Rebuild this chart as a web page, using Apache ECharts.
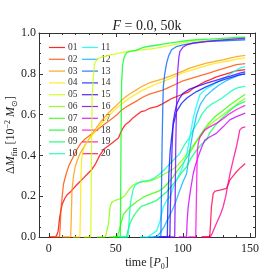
<!DOCTYPE html>
<html><head><meta charset="utf-8">
<script src="https://cdn.jsdelivr.net/npm/echarts@6/dist/echarts.min.js"></script>
<style>html,body{margin:0;padding:0;background:#fff}#c{width:277px;height:277px}</style>
</head><body><div id="c"></div>
<script>
const names = ['01','02','03','04','05','06','07','08','09','10','11','12','13','14','15','16','17','18','19','20'];
const colors = ['#ff0000','#ff4d00','#ff9900','#ffe600','#ccff00','#80ff00','#33ff00','#00ff1a','#00ff66','#00ffb3',
                '#00ffff','#00b3ff','#0066ff','#001aff','#3300ff','#8000ff','#cc00ff','#ff00e6','#ff0099','#ff004d'];
const yTicks = [0, 0.2, 0.4, 0.6, 0.8, 1.0];

const s01 = [[0,0],[5,0],[6,0.01],[7,0.03],[8,0.09],[9,0.13],[10,0.16],[12,0.19],[14,0.21],[16,0.22],[18,0.235],[20,0.25],[23,0.27],[26,0.29],[29,0.31],[32,0.33],[35,0.36],[38,0.40],[41,0.43],[44,0.445],[47,0.46],[50,0.475],[52,0.485],[53.5,0.51],[55,0.53],[57,0.55],[60,0.565],[63,0.585],[66,0.60],[69,0.615],[72,0.62],[75,0.63],[78,0.635],[81,0.64],[84,0.65],[88,0.665],[92,0.68],[96,0.69],[100,0.70],[104,0.71],[108,0.73],[112,0.745],[116,0.76],[120,0.77],[125,0.785],[130,0.795],[135,0.805],[140,0.815],[146.5,0.82]];
const s02 = [[3,0],[8,0],[8.5,0.05],[9,0.13],[10,0.2],[11,0.26],[13,0.31],[15,0.35],[18,0.39],[21,0.43],[24,0.46],[27,0.48],[30,0.495],[33,0.51],[36,0.525],[40,0.545],[44,0.565],[48,0.585],[51,0.60],[54,0.62],[57,0.635],[61,0.65],[65,0.665],[70,0.685],[75,0.70],[80,0.71],[85,0.72],[90,0.735],[95,0.75],[100,0.765],[105,0.775],[110,0.785],[115,0.795],[120,0.805],[125,0.815],[130,0.825],[135,0.835],[140,0.845],[146.5,0.85]];
const s03 = [[10,0],[16.3,0],[16.8,0.1],[17.3,0.23],[18.5,0.3],[19.7,0.345],[21.5,0.38],[23.4,0.41],[26,0.44],[29,0.47],[32,0.50],[36,0.54],[40,0.575],[44,0.605],[48,0.63],[52,0.655],[56,0.68],[60,0.70],[65,0.72],[70,0.74],[75,0.755],[80,0.765],[85,0.775],[90,0.787],[95,0.80],[100,0.813],[105,0.828],[110,0.838],[117.6,0.852],[125,0.862],[130,0.868],[135,0.877],[140,0.884],[146.5,0.89]];
const s04 = [[18,0],[23.2,0],[23.6,0.12],[24,0.3],[24.5,0.38],[25.5,0.42],[27,0.45],[30,0.48],[33,0.505],[36,0.53],[40,0.56],[44,0.59],[48,0.615],[52,0.64],[56,0.66],[60,0.68],[65,0.70],[70,0.72],[75,0.735],[80,0.75],[85,0.762],[90,0.775],[95,0.79],[100,0.805],[105,0.815],[110,0.825],[115,0.835],[120,0.845],[125,0.852],[130,0.858],[135,0.864],[140,0.872],[146.5,0.878]];
const s05 = [[26,0],[31.3,0],[31.6,0.2],[31.9,0.45],[32.3,0.68],[33,0.77],[34.1,0.85],[35.5,0.865],[37.1,0.877],[42,0.885],[46,0.893],[50,0.898],[55,0.905],[60,0.91],[65,0.914],[70,0.918],[75,0.921],[80,0.926],[85,0.932],[90,0.938],[95,0.945],[100,0.952],[105,0.956],[110,0.96],[120,0.963],[130,0.966],[140,0.97],[146.5,0.972]];
const s06 = [[36,0],[42,0],[43,0.02],[44.5,0.066],[45.7,0.147],[47,0.17],[49.5,0.18],[52,0.185],[54.4,0.19],[57,0.205],[60,0.235],[63,0.255],[66,0.265],[70,0.27],[73,0.272],[77,0.278],[81,0.29],[84,0.3],[88,0.315],[92,0.33],[95,0.344],[100,0.38],[105,0.426],[109,0.46],[112.7,0.49],[116,0.52],[120,0.55],[125,0.575],[130,0.60],[135,0.625],[140,0.65],[146.5,0.68]];
const s07 = [[45,0],[51,0],[52.5,0.03],[54,0.07],[55.6,0.11],[58,0.13],[60.6,0.147],[63,0.16],[66,0.175],[70.5,0.195],[74,0.205],[78,0.215],[82,0.225],[85.4,0.24],[89,0.265],[92.8,0.295],[96,0.325],[100,0.36],[104,0.40],[107.7,0.44],[111,0.48],[115,0.52],[119,0.555],[124,0.59],[130,0.62],[135,0.647],[140,0.67],[146.5,0.70]];
const s08 = [[48,0],[53.3,0],[53.6,0.2],[53.9,0.5],[54.3,0.75],[55,0.84],[56,0.875],[57,0.893],[58.5,0.905],[60.6,0.91],[65,0.915],[70.5,0.93],[75,0.935],[80,0.94],[85,0.945],[90,0.95],[95,0.955],[102.8,0.962],[110,0.967],[120,0.97],[130,0.974],[140,0.978],[146.5,0.98]];
const s09 = [[52,0],[58,0],[59,0.03],[60.6,0.066],[63,0.1],[65.6,0.125],[69,0.15],[73,0.16],[77,0.17],[80.5,0.18],[84,0.2],[87.9,0.221],[91,0.245],[95.3,0.279],[99,0.315],[102.8,0.344],[106,0.385],[110.2,0.426],[114,0.455],[117.6,0.475],[120,0.51],[124,0.545],[128,0.575],[132,0.6],[136,0.625],[140,0.645],[146.5,0.665]];
const s10 = [[53,0],[59,0],[59.6,0.05],[60.3,0.12],[61,0.17],[61.9,0.2],[63,0.235],[64.3,0.254],[68,0.27],[72,0.275],[75.5,0.279],[79,0.29],[83,0.31],[87,0.335],[90.4,0.36],[94,0.385],[97.8,0.41],[101,0.45],[105.2,0.49],[108,0.53],[111.4,0.565],[114,0.6],[117.6,0.631],[121,0.65],[125,0.664],[129,0.68],[132.5,0.697],[136,0.715],[140,0.73],[146.5,0.74]];
const s11 = [[68,0],[74,0],[77,0.015],[80.5,0.03],[83,0.08],[85.4,0.147],[88,0.18],[90.4,0.197],[93,0.245],[95.3,0.279],[99,0.33],[102.8,0.40],[105.2,0.49],[107.7,0.58],[110,0.64],[112.7,0.697],[117,0.725],[122.6,0.746],[127,0.765],[132.5,0.787],[137,0.805],[142.4,0.828],[146.5,0.835]];
const s12 = [[74,0],[80,0],[83,0.02],[86,0.05],[89,0.09],[92,0.13],[94,0.16],[97.8,0.23],[100,0.27],[102.8,0.31],[105.2,0.426],[107.7,0.52],[110.2,0.598],[113,0.65],[117,0.69],[122,0.72],[127,0.745],[132,0.765],[137,0.78],[142,0.795],[146.5,0.80]];
const s13 = [[78,0],[83.6,0],[84,0.2],[84.5,0.45],[85,0.63],[85.4,0.737],[86.5,0.8],[87.9,0.852],[89.5,0.89],[91.6,0.918],[95,0.933],[100.2,0.942],[108,0.951],[117.6,0.958],[130,0.962],[146.5,0.967]];
const s14 = [[82,0],[88.4,0],[88.8,0.15],[89.5,0.3],[90.5,0.42],[91.8,0.5],[92.8,0.549],[95.3,0.615],[99,0.655],[102.8,0.68],[106,0.695],[110.2,0.713],[117.6,0.737],[124,0.755],[130,0.77],[136,0.782],[142.4,0.795],[146.5,0.80]];
const s15 = [[84,0],[90.3,0],[90.7,0.15],[91.3,0.3],[92,0.45],[92.8,0.565],[94,0.61],[95.3,0.647],[97.5,0.68],[100.2,0.705],[105,0.725],[110.2,0.737],[117.6,0.754],[124,0.767],[130,0.779],[136,0.79],[142.4,0.803],[146.5,0.81]];
const s16 = [[88,0],[93.9,0],[94.3,0.2],[94.7,0.45],[95.3,0.65],[96,0.8],[97,0.88],[97.8,0.91],[100,0.93],[102.8,0.942],[108,0.95],[117.6,0.959],[130,0.966],[146.5,0.975]];
const s17 = [[97,0],[102.7,0],[103.2,0.08],[104,0.15],[105.7,0.23],[107.7,0.31],[109.5,0.355],[111.4,0.393],[114,0.44],[116.4,0.475],[120,0.49],[125,0.508],[130,0.54],[135,0.574],[140,0.59],[146.5,0.607]];
const s18 = [[104,0],[109.6,0],[110,0.15],[110.4,0.3],[110.8,0.42],[111.5,0.46],[112.7,0.49],[116.4,0.525],[120,0.54],[125,0.557],[130,0.58],[135,0.605],[140,0.625],[146.5,0.645]];
const s19 = [[114,0],[120.5,0],[122,0.02],[125,0.066],[128,0.11],[130,0.147],[132,0.2],[133.7,0.262],[135.5,0.32],[137.5,0.377],[139.5,0.43],[141,0.475],[142.4,0.524],[144,0.535],[146.5,0.54]];
const s20 = [[114,0],[120,0],[120.5,0.05],[121.3,0.147],[122.6,0.213],[124,0.225],[127.5,0.23],[130,0.234],[132.5,0.238],[134,0.26],[135,0.279],[137.5,0.3],[140,0.32],[143,0.34],[146.5,0.36]];
const seriesValues = [s01,s02,s03,s04,s05,s06,s07,s08,s09,s10,s11,s12,s13,s14,s15,s16,s17,s18,s19,s20];

const FONT = 'Liberation Serif';
const axisCol = '#333';
function xAx(pos, labels) {
  return {
    type: 'value', position: pos, min: -7.3, max: 153.8, splitNumber: 3,
    axisLine: { show: true, onZero: false, lineStyle: { color: axisCol, width: 1 } },
    axisTick: { show: true, inside: true, length: 4, lineStyle: { color: axisCol } },
    minorTick: { show: true, splitNumber: 5, length: 2, lineStyle: { color: axisCol } },
    axisLabel: { show: labels, showMinLabel: false, showMaxLabel: false, margin: 6,
      fontFamily: FONT, fontSize: 12, color: '#222',
      formatter: v => (Math.abs(v % 50) < 1e-6 ? String(v) : '') },
    splitLine: { show: false }
  };
}
function yAx(pos, labels) {
  return {
    type: 'value', position: pos, min: 0, max: 1, interval: 0.2,
    axisLine: { show: true, onZero: false, lineStyle: { color: axisCol, width: 1 } },
    axisTick: { show: true, inside: true, length: 4, lineStyle: { color: axisCol } },
    minorTick: { show: true, splitNumber: 4, length: 2, lineStyle: { color: axisCol } },
    axisLabel: { show: labels, margin: 3, fontFamily: FONT, fontSize: 12, color: '#222',
      formatter: v => v.toFixed(1) },
    splitLine: { show: false }
  };
}

const series = seriesValues.map((d, i) => ({
  name: names[i], type: 'line', data: d, xAxisIndex: 0, yAxisIndex: 0,
  symbol: 'none', showSymbol: false, smooth: false,
  lineStyle: { width: 1.3, color: colors[i], opacity: 0.8 },
  itemStyle: { color: colors[i] }, z: 2 + i
}));

const legendCommon = {
  orient: 'vertical', top: 37.5, itemWidth: 16, itemHeight: 9, itemGap: 1.8,
  icon: 'path://M0,4.4 L16,4.4 L16,5.6 L0,5.6 Z',
  textStyle: { fontFamily: FONT, fontSize: 9.5, lineHeight: 9, color: '#333', padding: [0,0,0,-2] },
  itemStyle: { opacity: 0.85 }, inactiveColor: '#ccc', selectedMode: false
};

const chart = echarts.init(document.getElementById('c'), null, { renderer: 'canvas' });
chart.setOption({
  animation: false,
  backgroundColor: '#fff',
  grid: { left: 39, right: 22, top: 33, bottom: 40, containLabel: false },
  xAxis: [xAx('bottom', true), xAx('top', false)],
  yAxis: [yAx('left', true), yAx('right', false)],
  legend: [
    Object.assign({}, legendCommon, { left: 44, data: names.slice(0, 10) }),
    Object.assign({}, legendCommon, { left: 77, data: names.slice(10) })
  ],
  series: series,
  graphic: [
    { type: 'text', x: 147, y: 26, z: 100,
      style: { text: '{i|F}{n| = 0.0, 50k}', align: 'center', verticalAlign: 'middle',
        rich: { i: { fontFamily: FONT, fontStyle: 'italic', fontSize: 14, fill: '#222' },
                n: { fontFamily: FONT, fontSize: 14, fill: '#222' } } } },
    { type: 'text', x: 147, y: 263, z: 100,
      style: { text: '{n|time [}{i|P}{s|0}{n|]}', align: 'center', verticalAlign: 'middle',
        rich: { n: { fontFamily: FONT, fontSize: 12, lineHeight: 15, fill: '#222' },
                i: { fontFamily: FONT, fontStyle: 'italic', fontSize: 12, lineHeight: 15, fill: '#222' },
                s: { fontFamily: FONT, fontSize: 8, lineHeight: 9, verticalAlign: 'bottom', fill: '#222' } } } },
    { type: 'text', x: 11, y: 135, rotation: Math.PI / 2, z: 100,
      style: { text: '{n|Δ}{i|M}{s|fin}{n| [10}{u|−2}{i| M}{s|⊙}{n|]}', align: 'center', verticalAlign: 'middle',
        rich: { n: { fontFamily: FONT, fontSize: 12, lineHeight: 15, fill: '#222' },
                i: { fontFamily: FONT, fontStyle: 'italic', fontSize: 12, lineHeight: 15, fill: '#222' },
                s: { fontFamily: FONT, fontSize: 8, lineHeight: 9, verticalAlign: 'bottom', fill: '#222' },
                u: { fontFamily: FONT, fontSize: 8, lineHeight: 9, verticalAlign: 'top', fill: '#222' } } } }
  ]
});
</script></body></html>
